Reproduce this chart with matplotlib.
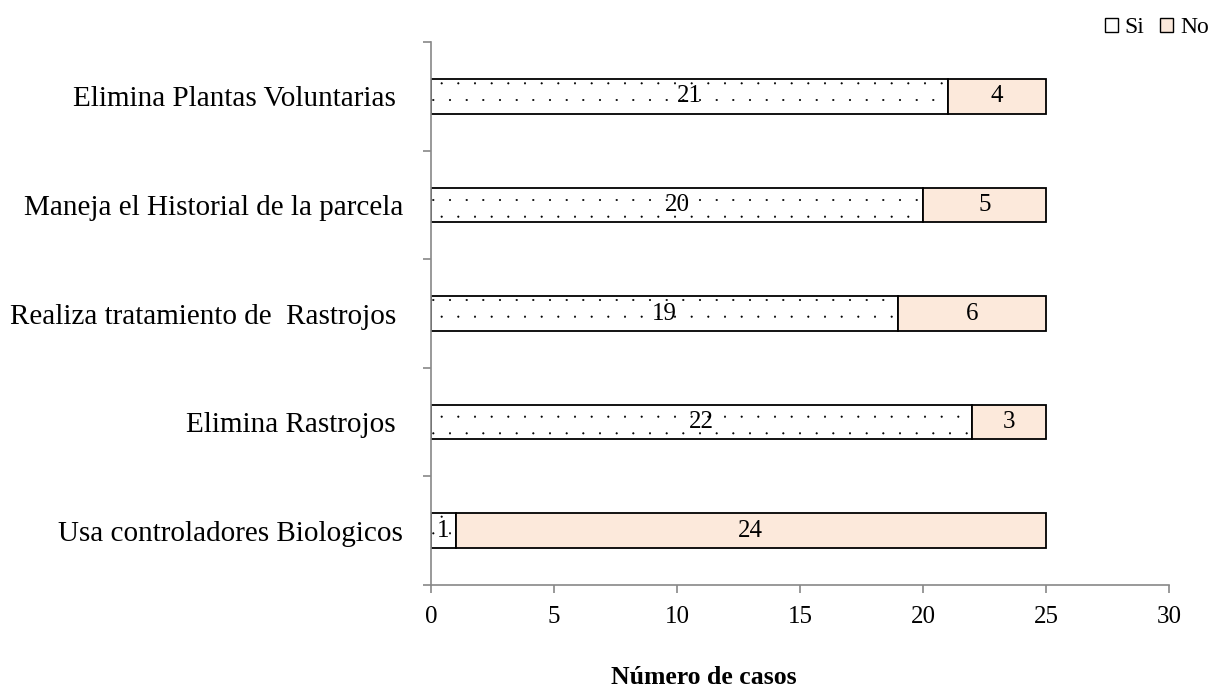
import matplotlib
matplotlib.use("Agg")
import matplotlib.pyplot as plt
import matplotlib.hatch as mhatch
from matplotlib.patches import Patch
from matplotlib.ticker import FixedLocator

categories = ["Usa controladores Biologicos", "Elimina Rastrojos ",
              "Realiza tratamiento de  Rastrojos ", "Maneja el Historial de la parcela",
              "Elimina Plantas Voluntarias "]
si = [1, 22, 19, 20, 21]
no = [24, 3, 6, 5, 4]
xticks = [0, 5, 10, 15, 20, 25, 30]

plt.rcParams['font.family'] = ['Liberation Serif', 'DejaVu Serif']
plt.rcParams['hatch.linewidth'] = 0.4
mhatch.SmallFilledCircles.size = 0.045

fig = plt.figure(figsize=(12.16, 6.9), dpi=100)
ax = fig.add_axes([431/1216, 1-585/690, (1169-431)/1216, (585-42)/690])

ypos = list(range(len(categories)))
h = 0.32
b1 = ax.barh(ypos, si, height=h, color='white', edgecolor='black', hatch='.', linewidth=1.3)
b2 = ax.barh(ypos, no, left=si, height=h, color='#FCE9DB', edgecolor='black', linewidth=1.3)

for y, s, n in zip(ypos, si, no):
    ax.text(s/2, y, str(s), ha='center', va='center', fontsize=18)
    ax.text(s + n/2, y, str(n), ha='center', va='center', fontsize=18)

ax.set_xlim(0, 30)
ax.set_ylim(-0.5, len(categories)-0.5)
ax.set_xticks(xticks)
ax.set_yticks(ypos)
ax.set_yticklabels(categories, fontsize=21)
ax.yaxis.set_minor_locator(FixedLocator([i-0.5 for i in range(len(categories)+1)]))
ax.tick_params(axis='y', which='major', length=0, pad=20)
ax.tick_params(axis='y', which='minor', length=6, color='#888888', width=1.2)
ax.tick_params(axis='x', length=6, color='#888888', width=1.2, labelsize=18, pad=9)
for s in ['top', 'right']:
    ax.spines[s].set_visible(False)
for s in ['left', 'bottom']:
    ax.spines[s].set_color('#888888')
    ax.spines[s].set_linewidth(1.2)
ax.set_xlabel('Número de casos', fontsize=18.5, fontweight='bold')
ax.xaxis.set_label_coords((704 - 431) / 738, -0.150)

handles = [Patch(facecolor='white', edgecolor='black', label='Si'),
           Patch(facecolor='#FCE9DB', edgecolor='black', label='No')]
fig.legend(handles=handles, loc='upper right', bbox_to_anchor=(1.0, 0.985), ncol=2,
           frameon=False, fontsize=17, handlelength=0.55, handleheight=0.55,
           handletextpad=0.3, columnspacing=0.65, borderpad=0.3, borderaxespad=0)

fig.savefig('out.png', dpi=100)
